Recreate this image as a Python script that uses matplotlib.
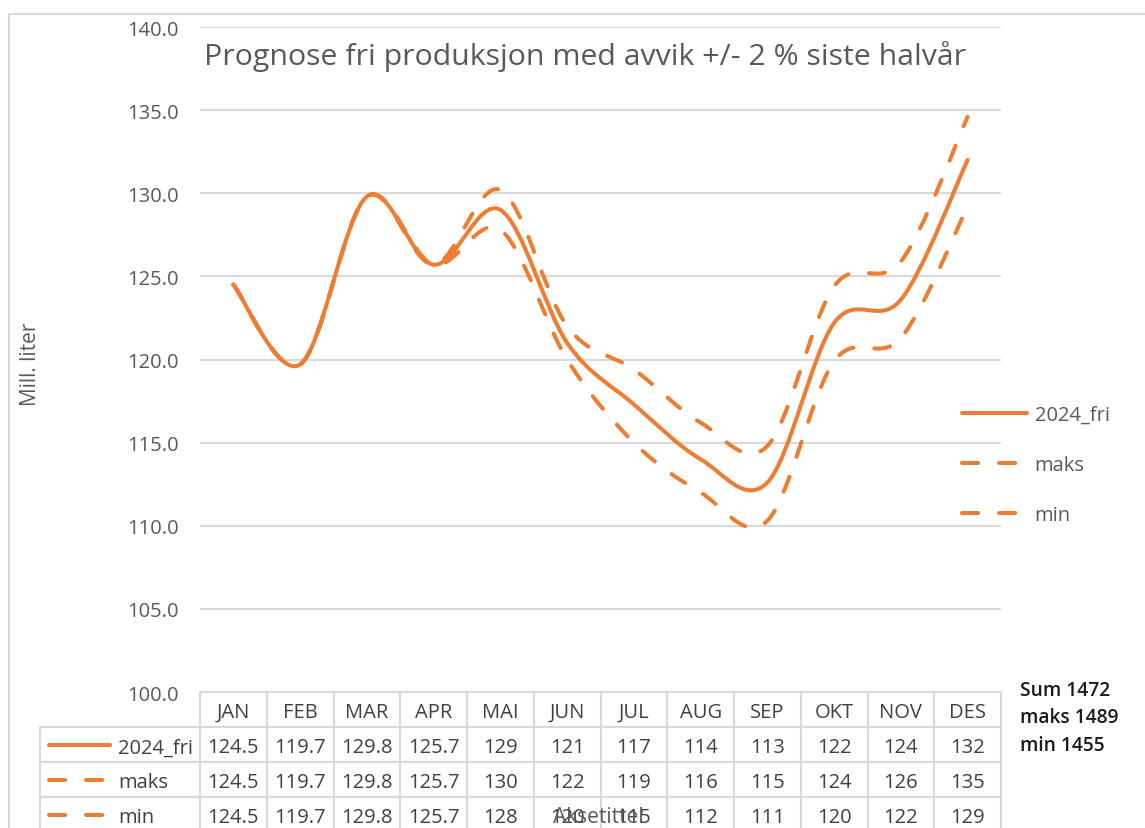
import matplotlib
matplotlib.use("Agg")
import matplotlib.pyplot as plt
from matplotlib.path import Path
from matplotlib.patches import PathPatch, Rectangle
from matplotlib.lines import Line2D
import numpy as np

# data
months = ["JAN", "FEB", "MAR", "APR", "MAI", "JUN", "JUL", "AUG", "SEP", "OKT", "NOV", "DES"]
fri = [124.5, 119.7, 129.8, 125.7, 129.0, 121.0, 117.3, 114.0, 112.6, 122.2, 123.6, 132.0]
maks = [124.5, 119.7, 129.8, 125.7, 130.2, 122.0, 119.4, 116.2, 114.8, 124.4, 125.9, 134.6]
mini = [124.5, 119.7, 129.8, 125.7, 127.8, 120.0, 115.0, 112.0, 110.3, 119.9, 121.3, 129.2]
series_names = ["2024_fri", "maks", "min"]
table_fri = ["124.5", "119.7", "129.8", "125.7", "129", "121", "117", "114", "113", "122", "124", "132"]
table_maks = ["124.5", "119.7", "129.8", "125.7", "130", "122", "119", "116", "115", "124", "126", "135"]
table_min = ["124.5", "119.7", "129.8", "125.7", "128", "120", "115", "112", "111", "120", "122", "129"]
totals = ["Sum 1472", "maks 1489", "min 1455"]

W, H = 1145, 829
ORANGE = "#ED7D31"
GRAY = "#595959"
GRID = "#D9D9D9"
plt.rcParams["font.family"] = ["Open Sans", "DejaVu Sans"]


def fx(px):
    return px / W


def fy(py):
    return 1 - py / H


def smooth_path(y):
    # excel-like smoothed line: cubic bezier segments through the points
    x = np.arange(len(y), dtype=float)
    y = np.asarray(y, dtype=float)
    n = len(y)
    verts = [(x[0], y[0])]
    codes = [Path.MOVETO]
    for i in range(n - 1):
        p0 = max(i - 1, 0)
        p3 = min(i + 2, n - 1)
        c1 = (x[i] + (x[i + 1] - x[p0]) / 6, y[i] + (y[i + 1] - y[p0]) / 6)
        c2 = (x[i + 1] - (x[p3] - x[i]) / 6, y[i + 1] - (y[p3] - y[i]) / 6)
        verts += [c1, c2, (x[i + 1], y[i + 1])]
        codes += [Path.CURVE4] * 3
    return Path(verts, codes)


fig = plt.figure(figsize=(W / 100, H / 100), dpi=100)
ax = fig.add_axes([fx(200), fy(693), 801 / W, 665 / H])

lw = 2.9
dash = (0, (4, 5.2))
styles = ["-", dash, dash]
for vals, ls in zip([fri, maks, mini], styles):
    patch = PathPatch(smooth_path(vals), facecolor="none", edgecolor=ORANGE,
                      lw=lw, linestyle=ls, capstyle="round", joinstyle="round", zorder=3)
    ax.add_patch(patch)

ax.set_xlim(-0.5, len(months) - 0.5)
ax.set_ylim(100, 140)
ax.set_yticks(np.arange(100, 141, 5))
ax.yaxis.set_major_formatter(matplotlib.ticker.FormatStrFormatter("%.1f"))
ax.tick_params(axis="y", length=0, pad=15, labelcolor=GRAY, labelsize=14.5)
ax.set_xticks([])
ax.grid(axis="y", color=GRID, lw=1.5)
ax.set_axisbelow(True)
for s in ax.spines.values():
    s.set_visible(False)

# data table below the axes, first column holds the row labels
cell_text = [[""] + row for row in [table_fri, table_maks, table_min]]
tab = ax.table(cellText=cell_text, colLabels=[""] + months, cellLoc="center",
               bbox=[(40 - 200) / 801, -140 / 665, 961 / 801, 140 / 665])
tab.auto_set_font_size(False)
tab.set_fontsize(14.5)
for (r, c), cell in tab.get_celld().items():
    cell.set_edgecolor(GRID)
    cell.set_linewidth(1.5)
    cell.get_text().set_color("#404040")
    cell.get_text().set_va("center_baseline")
    cell.set_width(160 / 801 if c == 0 else 66.75 / 801)
    if r == 0 and c == 0:
        cell.set_visible(False)

# legend keys inside the table's row labels
row_y = [746, 781, 816]
for name, ls, yy in zip(series_names, styles, row_y):
    fig.add_artist(Line2D([fx(49), fx(110)], [fy(yy), fy(yy)], color=ORANGE, lw=lw,
                          linestyle=ls, solid_capstyle="round", dash_capstyle="round",
                          transform=fig.transFigure))
    fig.text(fx(118), fy(yy), name, ha="left", va="center_baseline", fontsize=14.5,
             color="#404040")

# legend on the right
handles = [Line2D([], [], color=ORANGE, lw=lw, linestyle=ls,
                  solid_capstyle="round", dash_capstyle="round") for ls in styles]
fig.legend(handles, series_names, loc="center left", bbox_to_anchor=(fx(962), fy(466)),
           frameon=False, fontsize=14.5, handlelength=3.25, handletextpad=0.35,
           labelspacing=1.5, borderpad=0, borderaxespad=0, labelcolor=GRAY)

# totals
for t, yy in zip(totals, [691, 718, 746]):
    fig.text(fx(1020), fy(yy), t, ha="left", va="center", fontsize=13.8,
             color="#1a1a1a", fontweight="semibold")

fig.text(fx(585), fy(57), "Prognose fri produksjon med avvik +/- 2 % siste halvår",
         ha="center", va="center", fontsize=21.8, color=GRAY)
fig.text(fx(31), fy(364), "Mill. liter", rotation=90, ha="center", va="center",
         fontsize=15, color=GRAY)
fig.text(fx(598), fy(818), "Aksetittel", ha="center", va="center", fontsize=15, color=GRAY)

fig.add_artist(Rectangle((fx(9), -0.1), 1.2, fy(15) + 0.1, fill=False,
                         edgecolor=GRID, lw=1.5, transform=fig.transFigure))

fig.savefig("out.png", dpi=100)
